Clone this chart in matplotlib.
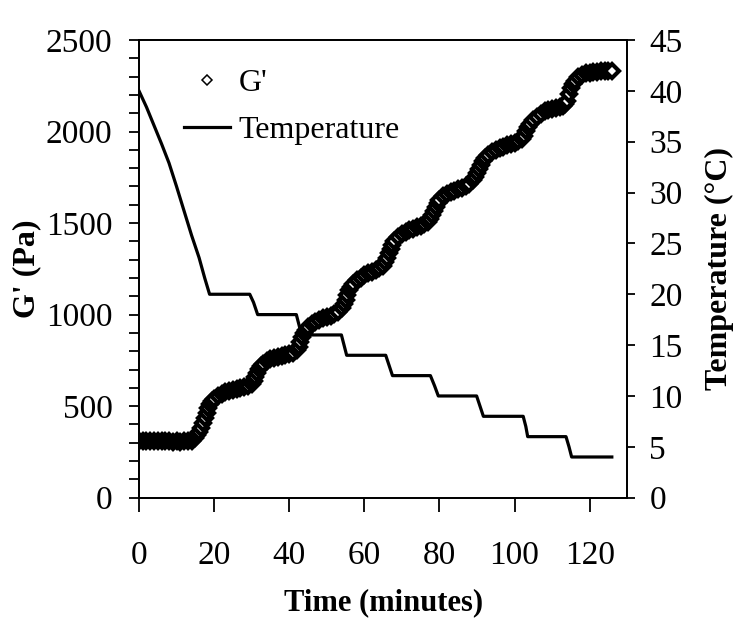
import matplotlib
matplotlib.use("Agg")
import matplotlib.pyplot as plt
from matplotlib.ticker import MultipleLocator
from matplotlib.lines import Line2D

# ---------------- data ----------------
time_g = [0, 1, 2, 3, 4, 5, 6, 7, 8, 9, 10, 11, 12, 13,
          14, 14.5, 15, 15.5, 16, 16.5, 17, 17.5, 18, 18.5, 19, 19.5, 20,
          21, 22, 23, 24, 25, 26, 27, 28, 29, 30, 30.5, 31, 31.5, 32, 32.5, 33,
          34, 35, 36, 37, 38, 39, 40, 41, 42, 42.5, 43, 43.5, 44, 44.5, 45,
          46, 47, 48, 49, 50, 51, 52, 53, 54, 54.5, 55, 55.5, 56, 56.5, 57,
          58, 59, 60, 61, 62, 63, 64, 65, 65.5, 66, 66.5, 67, 67.5, 68,
          69, 70, 71, 72, 73, 74, 75, 76, 77, 77.5, 78, 78.5, 79, 79.5, 80,
          81, 82, 83, 84, 85, 86, 87, 88, 89, 89.5, 90, 90.5, 91, 91.5, 92,
          93, 94, 95, 96, 97, 98, 99, 100, 101, 102, 102.5, 103, 103.5, 104,
          105, 106, 107, 108, 109, 110, 111, 112, 113, 113.5, 114, 114.5, 115, 115.5, 116,
          117, 118, 119, 120, 121, 122, 123, 124, 125, 126]
gprime = [312, 310, 311, 309, 310, 308, 309, 307, 308, 306, 307, 306, 308, 310,
          312, 318, 328, 342, 360, 382, 408, 436, 465, 490, 510, 527, 540,
          556, 568, 576, 584, 590, 595, 600, 605, 612, 622, 638, 660, 682, 702, 718, 730,
          748, 758, 765, 770, 776, 780, 785, 792, 805, 825, 852, 878, 900, 918, 932,
          950, 962, 972, 980, 988, 995, 1002, 1012, 1035, 1058, 1082, 1108, 1132, 1152, 1168,
          1188, 1202, 1214, 1225, 1235, 1244, 1253, 1268, 1285, 1308, 1335, 1360, 1382, 1400,
          1422, 1438, 1450, 1461, 1470, 1478, 1486, 1494, 1506, 1522, 1545, 1568, 1590, 1610, 1626,
          1648, 1660, 1668, 1676, 1684, 1692, 1702, 1714, 1735, 1752, 1772, 1795, 1818, 1838, 1853,
          1872, 1886, 1898, 1908, 1917, 1925, 1932, 1940, 1948, 1960, 1978, 2002, 2022, 2040,
          2062, 2082, 2098, 2110, 2118, 2125, 2130, 2136, 2140, 2150, 2165, 2205, 2240, 2262, 2278,
          2298, 2310, 2318, 2322, 2325, 2327, 2328, 2330, 2332, 2333]
assert len(time_g) == len(gprime)

time_t = [0, 2, 4, 6, 8, 10, 12, 14, 16, 17.5, 18.8, 29.5, 30.5, 31.6,
          41.9, 42.6, 43.3, 53.9, 54.6, 55.3, 65.7, 66.6, 67.5, 77.6, 78.7, 79.7,
          89.9, 90.8, 91.7, 102.3, 103.0, 103.5, 113.7, 114.5, 115.2, 125.9]
temperature = [40, 38.4, 36.6, 34.8, 32.9, 30.6, 28.2, 25.8, 23.6, 21.6, 20, 20, 19.2, 18,
               18, 17, 16, 16, 15, 14, 14, 13, 12, 12, 11, 10,
               10, 9, 8, 8, 7, 6, 6, 5, 4, 4]
assert len(time_t) == len(temperature)

x_ticks = [0, 20, 40, 60, 80, 100, 120]
g_ticks = [0, 500, 1000, 1500, 2000, 2500]
t_ticks = [0, 5, 10, 15, 20, 25, 30, 35, 40, 45]

# ---------------- style ----------------
plt.rcParams['font.family'] = ['Liberation Serif', 'DejaVu Serif']
FS = 24
LFS = 23

fig = plt.figure(figsize=(7.5, 6.2), dpi=100)
ax = fig.add_axes([0.1853, 0.1973, 0.651, 0.7382])
ax2 = ax.twinx()

ax.plot(time_g, gprime, linestyle='none', marker='D', markersize=7,
        markerfacecolor='white', markeredgecolor='black', markeredgewidth=3.0)
ht, = ax2.plot(time_t, temperature, color='black', linewidth=2.3)

ax.set_xlim(0, 130)
ax.set_ylim(0, 2500)
ax2.set_ylim(0, 45)

ax.set_xticks(x_ticks)
ax.set_yticks(g_ticks)
ax.yaxis.set_minor_locator(MultipleLocator(100))
ax2.set_yticks(t_ticks)

for a in (ax, ax2):
    for s in a.spines.values():
        s.set_linewidth(1.3)
        s.set_color('black')

ax.tick_params(axis='x', direction='out', length=10, width=1.3, pad=21, labelsize=FS)
ax.tick_params(axis='y', which='major', direction='out', length=7, width=1.3, pad=12, labelsize=FS)
ax.tick_params(axis='y', which='minor', direction='out', length=7, width=1.3)
ax2.tick_params(axis='y', direction='out', length=6, width=1.3, pad=10, labelsize=FS)

ax.set_xlabel('Time (minutes)', fontsize=22, fontweight='bold', labelpad=12)
ax.set_ylabel("G' (Pa)", fontsize=23, fontweight='bold', labelpad=3.5)
ax2.set_ylabel('Temperature (°C)', fontsize=23, fontweight='bold', labelpad=16)

g_handle = Line2D([], [], linestyle='none', marker='D', markersize=5,
                  markerfacecolor='white', markeredgecolor='black', markeredgewidth=1.1)
t_handle = Line2D([], [], color='black', linewidth=2.3)
leg = ax2.legend([g_handle, t_handle], ["G'", 'Temperature'], loc='upper left',
                 bbox_to_anchor=(184 / 750, 1 - 69 / 620), bbox_transform=fig.transFigure,
                 frameon=False, fontsize=LFS, handlelength=1.45, handletextpad=0.25,
                 labelspacing=0.55, borderpad=0, borderaxespad=0)

fig.savefig('out.png', dpi=100)
